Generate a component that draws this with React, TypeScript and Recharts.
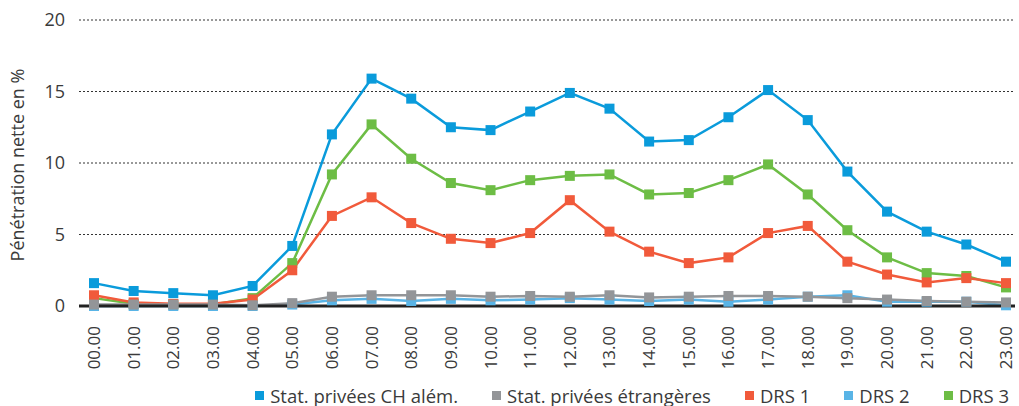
import { LineChart, Line, XAxis, YAxis, CartesianGrid, Legend } from "recharts";

const hours = [
  "00.00", "01.00", "02.00", "03.00", "04.00", "05.00", "06.00", "07.00",
  "08.00", "09.00", "10.00", "11.00", "12.00", "13.00", "14.00", "15.00",
  "16.00", "17.00", "18.00", "19.00", "20.00", "21.00", "22.00", "23.00",
];

const chAlem = [1.6, 1.05, 0.9, 0.75, 1.4, 4.2, 12.0, 15.9, 14.5, 12.5, 12.3, 13.6, 14.9, 13.8, 11.5, 11.6, 13.2, 15.1, 13.0, 9.4, 6.6, 5.2, 4.3, 3.1];
const etrangeres = [0.1, 0.1, 0.1, 0.1, 0.05, 0.2, 0.65, 0.75, 0.75, 0.75, 0.65, 0.7, 0.65, 0.75, 0.6, 0.65, 0.7, 0.7, 0.65, 0.55, 0.45, 0.35, 0.3, 0.25];
const drs1 = [0.75, 0.25, 0.15, 0.15, 0.45, 2.5, 6.3, 7.6, 5.8, 4.7, 4.4, 5.1, 7.4, 5.2, 3.8, 3.0, 3.4, 5.1, 5.6, 3.1, 2.2, 1.65, 1.95, 1.6];
const drs2 = [0.0, 0.0, 0.0, 0.0, 0.0, 0.1, 0.4, 0.5, 0.35, 0.5, 0.4, 0.45, 0.55, 0.45, 0.35, 0.45, 0.3, 0.45, 0.65, 0.75, 0.3, 0.3, 0.3, 0.05];
const drs3 = [0.55, 0.15, 0.1, 0.1, 0.55, 3.0, 9.2, 12.7, 10.3, 8.6, 8.1, 8.8, 9.1, 9.2, 7.8, 7.9, 8.8, 9.9, 7.8, 5.3, 3.4, 2.3, 2.1, 1.3];

const yTicks = [0, 5, 10, 15, 20];

const series = [
  { key: "ch", name: "Stat. privées CH além.", color: "#0a9bdb" },
  { key: "etr", name: "Stat. privées étrangères", color: "#939598" },
  { key: "drs1", name: "DRS 1", color: "#f15a3b" },
  { key: "drs2", name: "DRS 2", color: "#59b4e6" },
  { key: "drs3", name: "DRS 3", color: "#6dbd45" },
];

// draw order: big lines first, small ones on top
const drawOrder = ["drs3", "drs1", "ch", "drs2", "etr"];

const data = hours.map((h, i) => ({
  hour: h,
  ch: chAlem[i],
  etr: etrangeres[i],
  drs1: drs1[i],
  drs2: drs2[i],
  drs3: drs3[i],
}));

const FONT = "'Open Sans', Lato, sans-serif";
const TEXT = "#3a3a3a";

function SquareDot(props: any) {
  const { cx, cy, stroke } = props;
  if (cx == null || cy == null) return null;
  return <rect x={cx - 5} y={cy - 5} width={10} height={10} fill={stroke} />;
}

function HourTick(props: any) {
  const { x, y, payload } = props;
  return (
    <text
      x={x}
      y={y}
      transform={`rotate(-90, ${x}, ${y})`}
      dx={-12}
      dy={6}
      textAnchor="end"
      fill={TEXT}
      fontSize={17}
      fontFamily={FONT}
    >
      {payload.value}
    </text>
  );
}

function LegendContent() {
  return (
    <div
      style={{
        display: "flex",
        justifyContent: "flex-end",
        alignItems: "center",
        boxSizing: "border-box",
        height: 38,
        paddingTop: 17,
        paddingRight: 6,
        fontFamily: FONT,
        fontSize: 18.5,
        lineHeight: "22px",
        color: TEXT,
      }}
    >
      {series.map((s, i) => (
        <div key={s.key} style={{ display: "flex", alignItems: "center", marginLeft: i === 0 ? 0 : 34 }}>
          <span style={{ display: "inline-block", width: 9, height: 9, background: s.color, marginRight: 6 }} />
          <span>{s.name}</span>
        </div>
      ))}
    </div>
  );
}

export default function App() {
  return (
    <div style={{ width: 1019, height: 406, background: "#fff" }}>
      <style>{"body{margin:0}"}</style>
      <LineChart width={1019} height={406} data={data} margin={{ top: 20, right: 4, left: 0, bottom: 0 }}>
        <CartesianGrid vertical={false} stroke="#333" strokeDasharray="2 2" />
        <XAxis
          dataKey="hour"
          interval={0}
          height={62}
          tick={<HourTick />}
          tickLine={false}
          axisLine={{ stroke: "#222", strokeWidth: 3 }}
          padding={{ left: 15, right: 9 }}
        />
        <YAxis
          domain={[0, 20]}
          ticks={yTicks}
          width={79}
          tickLine={false}
          axisLine={false}
          tickMargin={8}
          tick={{ fill: TEXT, fontSize: 18, fontFamily: FONT }}
          label={{
            value: "Pénétration nette en %",
            angle: -90,
            position: "insideLeft",
            offset: 18,
            dy: 2,
            style: { textAnchor: "middle", fill: TEXT, fontSize: 18, fontFamily: FONT },
          }}
        />
        <Legend verticalAlign="bottom" content={<LegendContent />} />
        {drawOrder.map((k) => {
          const s = series.find((x) => x.key === k)!;
          return (
            <Line
              key={s.key}
              type="linear"
              dataKey={s.key}
              name={s.name}
              stroke={s.color}
              strokeWidth={2.5}
              dot={<SquareDot />}
              activeDot={false}
              isAnimationActive={false}
            />
          );
        })}
      </LineChart>
    </div>
  );
}
